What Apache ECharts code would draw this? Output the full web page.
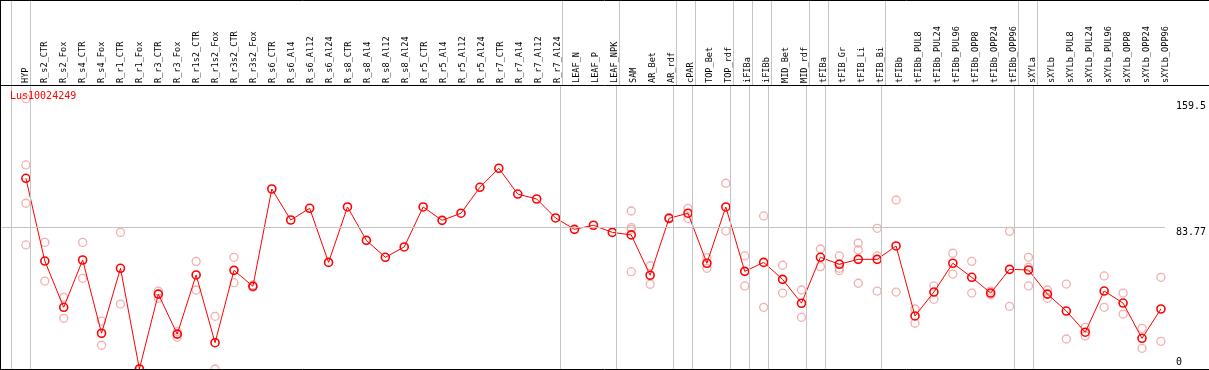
<!DOCTYPE html>
<html><head><meta charset="utf-8">
<script src="https://cdn.jsdelivr.net/npm/echarts@6/dist/echarts.min.js"></script>
<style>html,body{margin:0;padding:0;background:#fff}#c{width:1209px;height:370px}</style>
</head><body><div id="c"></div>
<script>
const categories = ['HYP','R_s2_CTR','R_s2_Fox','R_s4_CTR','R_s4_Fox','R_r1_CTR','R_r1_Fox','R_r3_CTR','R_r3_Fox','R_r1s2_CTR','R_r1s2_Fox','R_r3s2_CTR','R_r3s2_Fox','R_s6_CTR','R_s6_Al4','R_s6_Al12','R_s6_Al24','R_s8_CTR','R_s8_Al4','R_s8_Al12','R_s8_Al24','R_r5_CTR','R_r5_Al4','R_r5_Al12','R_r5_Al24','R_r7_CTR','R_r7_Al4','R_r7_Al12','R_r7_Al24','LEAF_N','LEAF_P','LEAF_NPK','SAM','AR_Bet','AR_rdf','cPAR','TOP_Bet','TOP_rdf','iFIBa','iFIBb','MID_Bet','MID_rdf','tFIBa','tFIB_Gr','tFIB_Li','tFIB_Bi','tFIBb','tFIBb_PUL8','tFIBb_PUL24','tFIBb_PUL96','tFIBb_OPP8','tFIBb_OPP24','tFIBb_OPP96','sXYLa','sXYLb','sXYLb_PUL8','sXYLb_PUL24','sXYLb_PUL96','sXYLb_OPP8','sXYLb_OPP24','sXYLb_OPP96'];
const means = [112.5,63.7,36.4,64.3,21.1,59.4,0,44.2,20.6,55.5,15.5,58.2,48.8,106.2,87.9,94.8,62.9,95.6,75.9,65.9,72.0,95.6,87.7,91.9,107.2,118.4,103.2,100.3,89.1,82.4,84.8,80.6,79.1,55.3,88.9,91.9,62.4,95.6,57.6,62.9,52.9,38.8,65.9,61.8,64.7,64.7,72.6,31.3,45.4,62.4,54.1,44.8,58.8,58.4,44.2,34.2,21.7,46.0,38.9,18.1,35.4];
const replicates = [
 [159.5,120.4,97.8,73.2],[74.7,51.9],[42.3,29.9],[74.7,53.5],[28.3,14.0],[80.6,38.3],[0,0],[46.0,41.7],[22.0,18.7],[63.5,46.6],[31.1,0],[65.9,50.9],[49.6,48.2],
 [],[],[],[],[],[],[],[],[],[],[],[],[],[],[],[],[],[],[],
 [93.2,83.4,82.4,57.4],[60.9,50.0],[89.3,88.5],[94.8,88.9],[65.7,59.4],[109.6,81.4],[66.7,49.0],[90.3,36.4],[61.2,44.8],[46.6,30.5],[70.8,60.4],[66.7,59.4,58.0],[74.3,70.2,50.6],[83.0,66.7,46.0],[99.7,45.4],[35.4,27.0],[49.0,41.1],[68.3,56.0],[63.5,44.8],[46.0,43.8],[81.2,37.0],[65.9,60.0,49.0],[46.6,41.7],[50.1,17.7],[24.6,19.5],[54.9,36.4],[44.8,32.4],[24.0,12.2],[54.1,16.3]
];
const groupEnds = [-1,0,28,31,34,35,37,38,39,41,42,45,52,53,60];
const yTickUpper = [83.77, 159.5];
const yTickLower = [0];
const refLineValue = 83.77;
const geneLabel = 'Lus10024249';

const MONO = 'DejaVu Sans Mono';
const X_MIN = -25/19, X_MAX = 60 + 4/19, Y_MAX = 167.55;
const SEP_OFF = 0.23;
const GRAY = '#c4c4c4';

const repData = [];
replicates.forEach((arr, i) => arr.forEach(v => repData.push([i, v])));
const meanData = means.map((v, i) => [i, v]);
const sepLines = groupEnds.map(e => ({xAxis: e + SEP_OFF}));

const chart = echarts.init(document.getElementById('c'), null, {renderer: 'canvas'});
const hiddenAxis = {axisLine:{show:false}, axisTick:{show:false}, splitLine:{show:false}};
chart.setOption({
  animation: false,
  backgroundColor: '#fff',
  title: {text: geneLabel, left: 10, top: 91, padding: 0,
    textStyle: {color: '#ff0000', fontSize: 10, fontWeight: 'normal', fontFamily: MONO}},
  grid: [
    {left: 1, right: 39, top: 1, height: 84},
    {left: 1, right: 39, top: 85, bottom: 1}
  ],
  xAxis: [
    Object.assign({gridIndex: 0, type: 'value', min: X_MIN, max: X_MAX, position: 'bottom',
      axisLabel: {show: true, inside: true, rotate: 90, margin: 2, hideOverlap: false,
        customValues: categories.map((_, i) => i),
        formatter: v => categories[Math.round(v)],
        fontFamily: MONO, fontSize: 8.6, color: '#000'}}, hiddenAxis),
    Object.assign({gridIndex: 1, type: 'value', min: X_MIN, max: X_MAX, axisLabel: {show: false}}, hiddenAxis)
  ],
  yAxis: [
    Object.assign({gridIndex: 0, type: 'value', min: 0, max: 1, axisLabel: {show: false}}, hiddenAxis),
    Object.assign({gridIndex: 1, type: 'value', min: 0, max: Y_MAX, position: 'right',
      axisLabel: {show: true, customValues: yTickUpper, verticalAlign: 'top', align: 'left', margin: 11,
        formatter: v => v === 159.5 ? '{p|' + v + '}' : String(v),
        rich: {p: {padding: [3,0,0,0], fontFamily: MONO, fontSize: 10, color: '#000'}},
        fontFamily: MONO, fontSize: 10, color: '#000'}}, hiddenAxis),
    Object.assign({gridIndex: 1, type: 'value', min: 0, max: Y_MAX, position: 'right',
      axisLabel: {show: true, customValues: yTickLower, verticalAlign: 'bottom', align: 'left', margin: 11,
        padding: [0,0,2,0],
        fontFamily: MONO, fontSize: 10, color: '#000'}}, hiddenAxis)
  ],
  series: [
    {type: 'line', xAxisIndex: 0, yAxisIndex: 0, data: [], silent: true,
      markLine: {silent: true, symbol: 'none', label: {show: false}, animation: false,
        lineStyle: {color: GRAY, width: 1, type: 'solid'}, emphasis: {disabled: true},
        data: sepLines}},
    {type: 'line', xAxisIndex: 1, yAxisIndex: 1, data: [], silent: true, z: 0,
      markLine: {silent: true, symbol: 'none', label: {show: false}, animation: false,
        lineStyle: {color: GRAY, width: 1, type: 'solid'}, emphasis: {disabled: true},
        data: sepLines.concat([{yAxis: refLineValue}])}},
    {type: 'scatter', xAxisIndex: 1, yAxisIndex: 1, data: repData, symbol: 'circle', symbolSize: 8,
      silent: true, z: 2, clip: false,
      itemStyle: {color: 'rgba(255,255,255,0)', borderColor: '#f09a9a', borderWidth: 1.3}},
    {type: 'line', xAxisIndex: 1, yAxisIndex: 1, data: meanData, symbol: 'circle', symbolSize: 8,
      showAllSymbol: true, silent: true, z: 3, clip: false,
      lineStyle: {color: '#ff0000', width: 1},
      itemStyle: {color: 'rgba(255,255,255,0)', borderColor: '#ff0000', borderWidth: 1.6}}
  ],
  graphic: [
    {type: 'line', shape: {x1: 0, y1: 0.5, x2: 1209, y2: 0.5}, style: {stroke: '#000', lineWidth: 1}, z: 100},
    {type: 'line', shape: {x1: 0.5, y1: 0, x2: 0.5, y2: 370}, style: {stroke: '#000', lineWidth: 1}, z: 100},
    {type: 'line', shape: {x1: 0, y1: 85.5, x2: 1209, y2: 85.5}, style: {stroke: '#000', lineWidth: 1}, z: 100},
    {type: 'line', shape: {x1: 0, y1: 369.5, x2: 1209, y2: 369.5}, style: {stroke: '#000', lineWidth: 1}, z: 100}
  ]
});
</script></body></html>
